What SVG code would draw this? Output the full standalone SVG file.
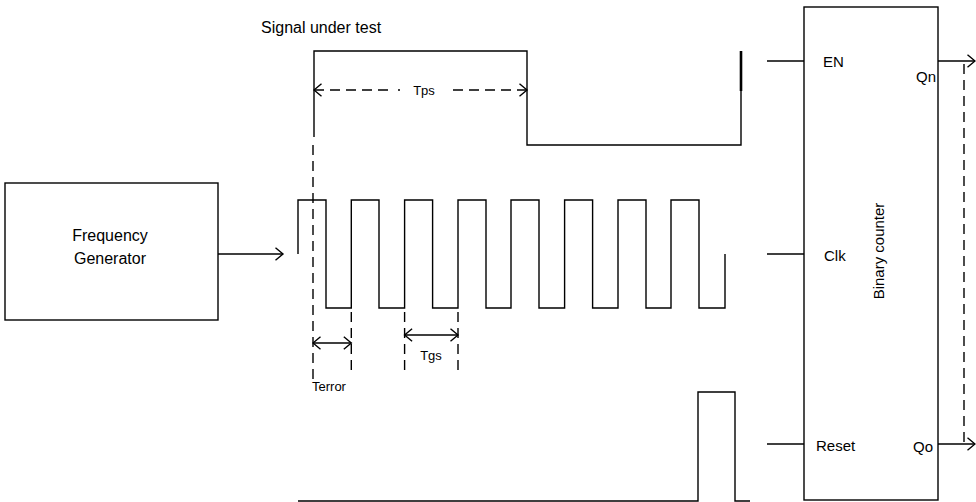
<svg xmlns="http://www.w3.org/2000/svg" width="976" height="502" viewBox="0 0 976 502">
<defs>
<style>
.ln{fill:none;stroke:#000;stroke-width:1.4}
.dash{fill:none;stroke:#000;stroke-width:1.4;stroke-dasharray:10 6}
.box{fill:#fff;stroke:#000;stroke-width:1.4}
.t{font-family:"Liberation Sans",Arial,sans-serif;fill:#000}
.big{font-size:16px}
.med{font-size:15px}
.sm{font-size:13px}
</style>
<marker id="ah" viewBox="0 0 10 14" refX="8.5" refY="7" markerWidth="10" markerHeight="14" markerUnits="userSpaceOnUse" orient="auto-start-reverse">
<path d="M1,0.8 L8.5,7 L1,13.2" fill="none" stroke="#000" stroke-width="1.4"/>
</marker>
</defs>
<rect width="976" height="502" fill="#fff"/>

<text class="t big" x="261" y="33">Signal under test</text>

<g id="freq-gen">
<rect class="box" x="5" y="183" width="213" height="137"/>
<text class="t big" x="110" y="241" text-anchor="middle">Frequency</text>
<text class="t big" x="110" y="264" text-anchor="middle">Generator</text>
</g>

<g id="counter">
<rect class="box" x="804" y="7" width="134" height="493"/>
<text class="t med" x="823" y="67">EN</text>
<text class="t med" x="824" y="261">Clk</text>
<text class="t med" x="816" y="451">Reset</text>
<text class="t med" x="916" y="82">Qn</text>
<text class="t med" x="913" y="452">Qo</text>
<text class="t med" transform="translate(884,251) rotate(-90)" text-anchor="middle">Binary counter</text>
</g>

<g id="waveforms">
<path class="ln" d="M314,137 V51 H527 V145 H741 V90"/>
<line x1="741" y1="51" x2="741" y2="91" stroke="#000" stroke-width="2.6"/>
<path class="ln" d="M298,254 V200 H326 V308 H351.3 V200 H379 V308 H404.6 V200 H432.6 V308 H458 V200 H486 V308 H511 V200 H539 V308 H564.6 V200 H592.6 V308 H618 V200 H646 V308 H671 V200 H699 V308 H725 V254"/>
<path class="ln" d="M298,501 H698 V392 H735 V501 H750"/>
</g>

<g id="connectors">
<line class="ln" x1="218" y1="254" x2="283" y2="254" marker-end="url(#ah)"/>
<line class="ln" x1="767" y1="61" x2="804" y2="61"/>
<line class="ln" x1="767" y1="254" x2="804" y2="254"/>
<line class="ln" x1="767" y1="444" x2="804" y2="444"/>
<line class="ln" x1="938" y1="61" x2="975" y2="61" marker-end="url(#ah)"/>
<line class="ln" x1="938" y1="444" x2="975" y2="444" marker-end="url(#ah)"/>
<line class="dash" x1="964" y1="64" x2="964" y2="444"/>
</g>

<g id="dimensions">
<line class="dash" x1="314" y1="90" x2="393" y2="90" marker-start="url(#ah)"/>
<line class="ln" x1="398" y1="90" x2="400" y2="90"/>
<line class="dash" x1="527" y1="90" x2="447" y2="90" marker-start="url(#ah)"/>
<text class="t sm" x="424" y="95" text-anchor="middle">Tps</text>
<line class="dash" x1="313" y1="145" x2="313" y2="380"/>
<line class="dash" x1="351.3" y1="312" x2="351.3" y2="374"/>
<line class="dash" x1="404.6" y1="312" x2="404.6" y2="374"/>
<line class="dash" x1="458" y1="312" x2="458" y2="374"/>
<line class="ln" x1="313" y1="343" x2="351.3" y2="343" marker-start="url(#ah)" marker-end="url(#ah)"/>
<line class="ln" x1="404.6" y1="335" x2="458" y2="335" marker-start="url(#ah)" marker-end="url(#ah)"/>
<text class="t sm" x="431" y="360" text-anchor="middle">Tgs</text>
<text class="t sm" x="312" y="391">Terror</text>
</g>
</svg>
